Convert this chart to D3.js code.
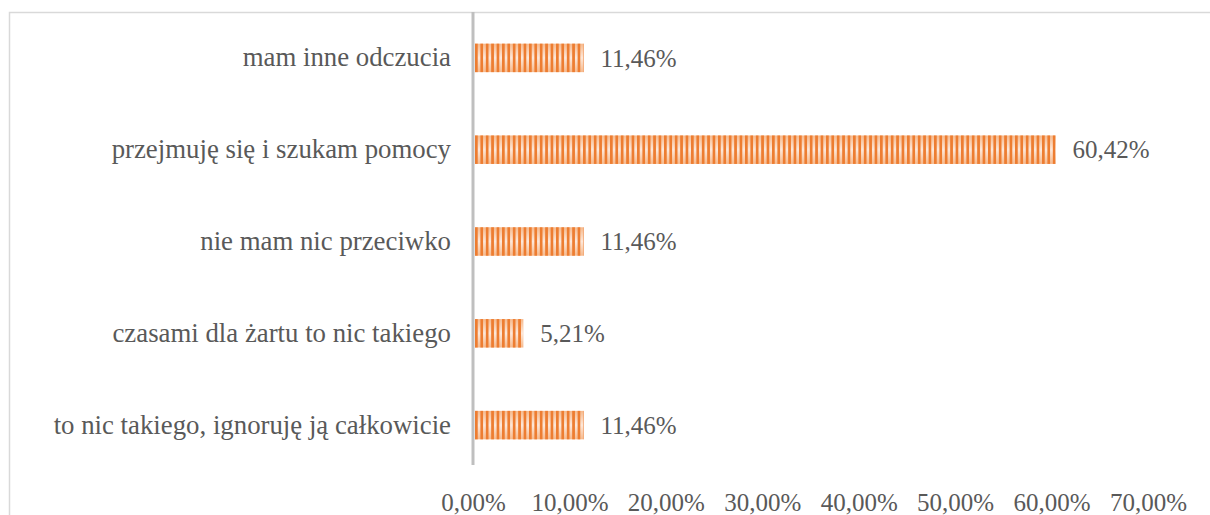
<!DOCTYPE html>
<html>
<head>
<meta charset="utf-8">
<script src="https://cdn.jsdelivr.net/npm/d3@7"></script>
<style>
  html, body { margin: 0; padding: 0; background: #fff; }
  svg { display: block; }
  svg text { font-family: "Liberation Serif", "Times New Roman", Times, serif; }
</style>
</head>
<body>
<svg id="chart" width="1210" height="515"></svg>
<script>
// Survey answers, listed top to bottom
const categories = [
  "mam inne odczucia",
  "przejmuję się i szukam pomocy",
  "nie mam nic przeciwko",
  "czasami dla żartu to nic takiego",
  "to nic takiego, ignoruję ją całkowicie"
];
const values = [11.46, 60.42, 11.46, 5.21, 11.46];
const tickValues = [0, 10, 20, 30, 40, 50, 60, 70];

const fmt = v => v.toFixed(2).replace(".", ",") + "%";

const svg = d3.select("#chart");
const W = 1210, H = 515;
const margin = { left: 473, top: 12, bottom: 50 };
const plotBottom = H - margin.bottom;

const x = d3.scaleLinear().domain([0, 70]).range([margin.left, 1148]);
const y = d3.scaleBand().domain(categories).range([margin.top, plotBottom + 6]).paddingInner(0.69).paddingOuter(0.345);

const textColor = "#595959";
const labelSize = 26.8;
const numSize = 25;

// Chart frame
svg.append("rect")
  .attr("x", 9.5).attr("y", 12.5)
  .attr("width", W + 10).attr("height", H + 10)
  .attr("fill", "none").attr("stroke", "#d9d9d9").attr("stroke-width", 1.5);

// Fills: soft vertical glow under orange vertical stripes
const defs = svg.append("defs");
const glow = defs.append("linearGradient").attr("id", "glow")
  .attr("x1", 0).attr("y1", 0).attr("x2", 0).attr("y2", 1);
glow.append("stop").attr("offset", "0%").attr("stop-color", "#f6b98c");
glow.append("stop").attr("offset", "50%").attr("stop-color", "#fde8da");
glow.append("stop").attr("offset", "100%").attr("stop-color", "#f6b98c");

const stripes = defs.append("pattern").attr("id", "stripes")
  .attr("patternUnits", "userSpaceOnUse")
  .attr("x", margin.left + 2).attr("y", 0)
  .attr("width", 5.4).attr("height", 10);
stripes.append("rect").attr("x", 0).attr("y", 0)
  .attr("width", 2.7).attr("height", 10).attr("fill", "#ed7d31");

const bars = svg.append("g");
categories.forEach((c, i) => {
  const x0 = x(0) + 2, x1 = x(values[i]);
  bars.append("rect")
    .attr("x", x0).attr("y", y(c))
    .attr("width", x1 - x0).attr("height", y.bandwidth())
    .attr("fill", "url(#glow)");
  bars.append("rect")
    .attr("x", x0).attr("y", y(c))
    .attr("width", x1 - x0).attr("height", y.bandwidth())
    .attr("fill", "url(#stripes)");
});

// Value axis ticks (labels only)
const xAxis = d3.axisBottom(x).tickValues(tickValues).tickFormat(d => fmt(d)).tickSize(0).tickPadding(0);
const gx = svg.append("g").attr("transform", `translate(0, ${H - 4})`).call(xAxis);
gx.select(".domain").remove();
gx.attr("font-family", null);
gx.selectAll("text")
  .attr("dy", 0)
  .attr("font-size", numSize).attr("fill", textColor);

// Category axis
const yAxis = d3.axisLeft(y).tickSize(0).tickPadding(22);
const gy = svg.append("g").attr("transform", `translate(${margin.left}, 0)`).call(yAxis);
gy.select(".domain").remove();
gy.attr("font-family", null);
gy.selectAll("text")
  .attr("font-size", labelSize).attr("fill", textColor);

svg.append("line")
  .attr("x1", margin.left).attr("x2", margin.left)
  .attr("y1", margin.top).attr("y2", plotBottom)
  .attr("stroke", "#bfbfbf").attr("stroke-width", 3);

// Value labels
svg.append("g").selectAll("text").data(categories).join("text")
  .attr("x", (c, i) => x(values[i]) + 17)
  .attr("y", c => y(c) + y.bandwidth() / 2)
  .attr("dy", "0.35em")
  .attr("font-size", numSize).attr("fill", textColor)
  .text((c, i) => fmt(values[i]));
</script>
</body>
</html>
